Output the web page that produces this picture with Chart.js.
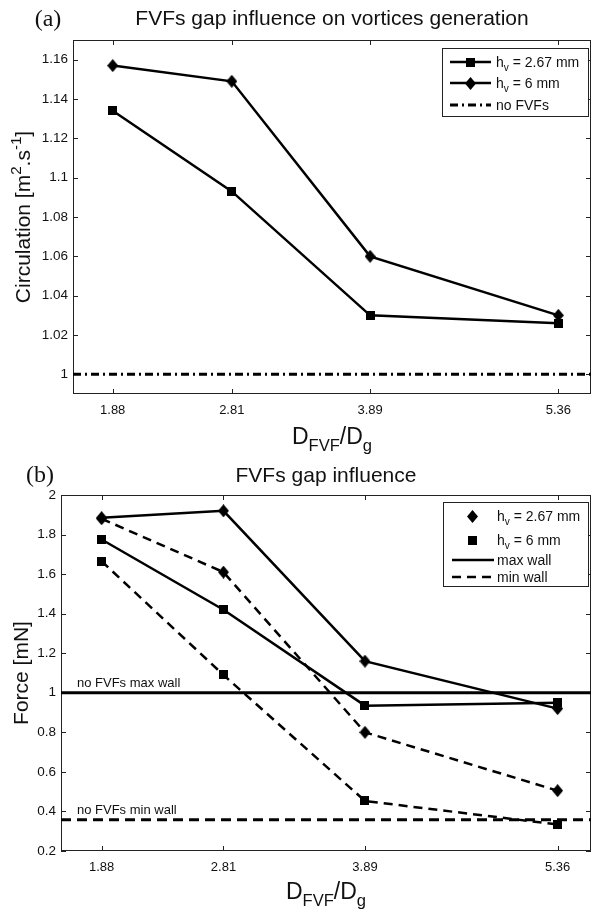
<!DOCTYPE html>
<html>
<head>
<meta charset="utf-8">
<script src="https://cdn.jsdelivr.net/npm/chart.js@4.4.1/dist/chart.umd.min.js"></script>
<style>
  html, body { margin: 0; padding: 0; background: #fff; }
  body { width: 602px; height: 912px; position: relative; overflow: hidden; }
  .panel { position: absolute; left: 0; width: 602px; }
  #panelA { top: 0; height: 458px; }
  #panelB { top: 458px; height: 454px; }
</style>
</head>
<body>
<div class="panel" id="panelA"><canvas id="chartA"></canvas></div>
<div class="panel" id="panelB"><canvas id="chartB"></canvas></div>
<script>
// gap ratio D_FVF / D_g
const ratios = [1.88, 2.81, 3.89, 5.36];
const ratioRange = [1.57, 5.615];

// (a) circulation [m2/s]
const circHv267 = [1.134, 1.093, 1.030, 1.026];
const circHv6 = [1.157, 1.149, 1.060, 1.030];
const circNoFvf = 1;
const circTicks = [1, 1.02, 1.04, 1.06, 1.08, 1.1, 1.12, 1.14, 1.16];
const circRange = [0.99, 1.17];

// (b) force [mN]
const forceHv267Max = [1.885, 1.92, 1.16, 0.92];
const forceHv267Min = [1.88, 1.61, 0.80, 0.505];
const forceHv6Max = [1.775, 1.42, 0.935, 0.95];
const forceHv6Min = [1.665, 1.09, 0.453, 0.334];
const forceNoFvfMax = 1;
const forceNoFvfMin = 0.358;
const forceTicks = [0.2, 0.4, 0.6, 0.8, 1, 1.2, 1.4, 1.6, 1.8, 2];
const forceRange = [0.2, 2];

const FONT = '"Liberation Sans", Arial, Helvetica, sans-serif';
const SERIF = '"Liberation Serif", "Times New Roman", serif';
const INK = '#111';

// marker images (MATLAB diamond is a bit taller than wide)
function makeMarker(kind, w, h) {
  const c = document.createElement('canvas');
  c.width = w; c.height = h;
  const g = c.getContext('2d');
  g.fillStyle = '#000';
  if (kind === 'diamond') {
    g.beginPath();
    g.moveTo(w / 2, 0); g.lineTo(w, h / 2); g.lineTo(w / 2, h); g.lineTo(0, h / 2);
    g.closePath(); g.fill();
  } else {
    g.fillRect(0, 0, w, h);
  }
  return c;
}
const diamond = makeMarker('diamond', 11, 13);
const square = makeMarker('square', 9, 9);

const pts = (ys) => ratios.map((x, i) => ({x: x, y: ys[i]}));
const hline = (v) => [{x: ratioRange[0], y: v}, {x: ratioRange[1], y: v}];

// text with sub/superscripts, parts = [[text, 'sup'|'sub'|null], ...]
function richText(ctx, parts, x, y, size, align) {
  const pieces = parts.map(([t, k]) => {
    const s = k ? size * 0.72 : size;
    ctx.font = s + 'px ' + FONT;
    return {t: t, k: k, s: s, w: ctx.measureText(t).width};
  });
  const total = pieces.reduce((a, p) => a + p.w, 0);
  let cx = align === 'center' ? x - total / 2 : (align === 'right' ? x - total : x);
  ctx.textAlign = 'left';
  ctx.textBaseline = 'alphabetic';
  pieces.forEach(p => {
    ctx.font = p.s + 'px ' + FONT;
    const dy = p.k === 'sup' ? -size * 0.42 : (p.k === 'sub' ? size * 0.32 : 0);
    ctx.fillText(p.t, cx, y + dy);
    cx += p.w;
  });
}

function plainText(ctx, t, x, y, font, align) {
  ctx.font = font;
  ctx.textAlign = align || 'center';
  ctx.textBaseline = 'middle';
  ctx.fillText(t, x, y);
}

// box around the axes plus inward ticks, MATLAB style
const frame = {
  id: 'frame',
  beforeDatasetsDraw(chart) {
    const {ctx, chartArea: a, scales} = chart;
    const tl = 5;
    ctx.save();
    ctx.strokeStyle = '#222';
    ctx.lineWidth = 1;
    ctx.strokeRect(Math.round(a.left) + 0.5, Math.round(a.top) + 0.5,
      Math.round(a.right - a.left) - 1, Math.round(a.bottom - a.top) - 1);
    ctx.beginPath();
    scales.x.ticks.forEach(t => {
      const px = Math.round(scales.x.getPixelForValue(t.value)) + 0.5;
      ctx.moveTo(px, a.bottom); ctx.lineTo(px, a.bottom - tl);
      ctx.moveTo(px, a.top); ctx.lineTo(px, a.top + tl);
    });
    scales.y.ticks.forEach(t => {
      const py = Math.round(scales.y.getPixelForValue(t.value)) + 0.5;
      ctx.moveTo(a.left, py); ctx.lineTo(a.left + tl, py);
      ctx.moveTo(a.right, py); ctx.lineTo(a.right - tl, py);
    });
    ctx.stroke();
    ctx.restore();
  }
};

function legendBox(ctx, l, t, r, b) {
  ctx.fillStyle = '#fff';
  ctx.fillRect(l, t, r - l, b - t);
  ctx.strokeStyle = '#222';
  ctx.lineWidth = 1;
  ctx.strokeRect(l + 0.5, t + 0.5, r - l, b - t);
}

function legendLine(ctx, x0, x1, y, width, dash) {
  ctx.save();
  ctx.strokeStyle = '#000';
  ctx.lineWidth = width;
  ctx.setLineDash(dash || []);
  ctx.beginPath();
  ctx.moveTo(x0, y); ctx.lineTo(x1, y);
  ctx.stroke();
  ctx.restore();
}

function legendMarker(ctx, img, x, y) {
  ctx.drawImage(img, Math.round(x - img.width / 2), Math.round(y - img.height / 2));
}

const decorA = {
  id: 'decorA',
  afterDraw(chart) {
    const {ctx, chartArea: a} = chart;
    const mid = (a.left + a.right) / 2;
    ctx.save();
    ctx.fillStyle = INK;
    plainText(ctx, '(a)', 48, 20, '24px ' + SERIF);
    plainText(ctx, 'FVFs gap influence on vortices generation', mid, 19, '21px ' + FONT);
    richText(ctx, [['D', null], ['FVF', 'sub'], ['/D', null], ['g', 'sub']], mid, 444, 23, 'center');
    ctx.save();
    ctx.translate(30, (a.top + a.bottom) / 2);
    ctx.rotate(-Math.PI / 2);
    richText(ctx, [['Circulation [m', null], ['2', 'sup'], ['.s', null], ['-1', 'sup'], [']', null]], 0, 0, 21, 'center');
    ctx.restore();

    // legend
    legendBox(ctx, 442, 48, 588, 116);
    legendLine(ctx, 450, 491, 62, 2.5);
    legendMarker(ctx, square, 470.5, 62);
    legendLine(ctx, 450, 491, 83, 2.5);
    legendMarker(ctx, diamond, 470.5, 83);
    legendLine(ctx, 450, 491, 105, 3, [8, 4, 2, 4]);
    ctx.fillStyle = INK;
    richText(ctx, [['h', null], ['v', 'sub'], [' = 2.67 mm', null]], 496, 67, 14, 'left');
    richText(ctx, [['h', null], ['v', 'sub'], [' = 6 mm', null]], 496, 88, 14, 'left');
    richText(ctx, [['no FVFs', null]], 496, 110, 14, 'left');
    ctx.restore();
  }
};

const decorB = {
  id: 'decorB',
  afterDraw(chart) {
    const {ctx, chartArea: a, scales} = chart;
    const mid = (a.left + a.right) / 2;
    ctx.save();
    ctx.fillStyle = INK;
    plainText(ctx, '(b)', 40, 18, '24px ' + SERIF);
    plainText(ctx, 'FVFs gap influence', mid, 18, '21px ' + FONT);
    richText(ctx, [['D', null], ['FVF', 'sub'], ['/D', null], ['g', 'sub']], mid, 441, 23, 'center');
    ctx.save();
    ctx.translate(21, (a.top + a.bottom) / 2);
    ctx.rotate(-Math.PI / 2);
    richText(ctx, [['Force [mN]', null]], 0, 7, 21, 'center');
    ctx.restore();

    // reference line labels
    ctx.font = '13px ' + FONT;
    ctx.textAlign = 'left';
    ctx.textBaseline = 'alphabetic';
    ctx.fillText('no FVFs max wall', 77, scales.y.getPixelForValue(forceNoFvfMax) - 6);
    ctx.fillText('no FVFs min wall', 77, scales.y.getPixelForValue(forceNoFvfMin) - 6);

    // legend
    legendBox(ctx, 443, 44, 588, 128);
    legendMarker(ctx, diamond, 472, 58);
    legendMarker(ctx, square, 472, 82);
    legendLine(ctx, 452, 494, 102, 2.5);
    legendLine(ctx, 452, 494, 119, 2.5, [9, 6]);
    ctx.fillStyle = INK;
    richText(ctx, [['h', null], ['v', 'sub'], [' = 2.67 mm', null]], 497, 63, 14, 'left');
    richText(ctx, [['h', null], ['v', 'sub'], [' = 6 mm', null]], 497, 87, 14, 'left');
    richText(ctx, [['max wall', null]], 497, 107, 14, 'left');
    richText(ctx, [['min wall', null]], 497, 124, 14, 'left');
    ctx.restore();
  }
};

function xScale(height) {
  return {
    type: 'linear',
    min: ratioRange[0],
    max: ratioRange[1],
    afterBuildTicks: s => { s.ticks = ratios.map(v => ({value: v})); },
    afterFit: s => { s.height = height; },
    grid: {display: false, drawTicks: false},
    border: {display: false},
    ticks: {
      font: {family: FONT, size: 13}, color: INK, padding: 9,
      autoSkip: false, maxRotation: 0, callback: v => String(v)
    }
  };
}

function yScale(range, ticks, width) {
  return {
    type: 'linear',
    min: range[0],
    max: range[1],
    afterBuildTicks: s => { s.ticks = ticks.map(v => ({value: v})); },
    afterFit: s => { s.width = width; },
    grid: {display: false, drawTicks: false},
    border: {display: false},
    ticks: {
      font: {family: FONT, size: 13.5}, color: INK, padding: 5,
      autoSkip: false, callback: v => String(v)
    }
  };
}

function series(data, marker, dash) {
  return {
    data: data,
    borderColor: '#000',
    backgroundColor: '#000',
    borderWidth: 2.5,
    borderDash: dash || [],
    pointStyle: marker,
    pointRadius: 5,
    tension: 0,
    fill: false
  };
}

function refLine(v, dash) {
  return {
    data: hline(v),
    borderColor: '#000',
    borderWidth: 3,
    borderDash: dash,
    pointRadius: 0,
    fill: false
  };
}

const common = {
  responsive: true,
  maintainAspectRatio: false,
  animation: false,
  events: [],
  plugins: {legend: {display: false}, tooltip: {enabled: false}, title: {display: false}}
};

new Chart(document.getElementById('chartA'), {
  type: 'line',
  data: {
    datasets: [
      refLine(circNoFvf, [8, 4, 2, 4]),
      series(pts(circHv267), square),
      series(pts(circHv6), diamond)
    ]
  },
  options: {
    ...common,
    layout: {padding: {top: 40, left: 0, right: 11, bottom: 0}},
    scales: {x: xScale(64), y: yScale(circRange, circTicks, 73)}
  },
  plugins: [frame, decorA]
});

new Chart(document.getElementById('chartB'), {
  type: 'line',
  data: {
    datasets: [
      refLine(forceNoFvfMax, []),
      refLine(forceNoFvfMin, [10, 6]),
      series(pts(forceHv267Max), diamond),
      series(pts(forceHv267Min), diamond, [9, 6]),
      series(pts(forceHv6Max), square),
      series(pts(forceHv6Min), square, [9, 6])
    ]
  },
  options: {
    ...common,
    layout: {padding: {top: 37, left: 0, right: 11, bottom: 0}},
    scales: {x: xScale(61), y: yScale(forceRange, forceTicks, 61)}
  },
  plugins: [frame, decorB]
});
</script>
</body>
</html>
